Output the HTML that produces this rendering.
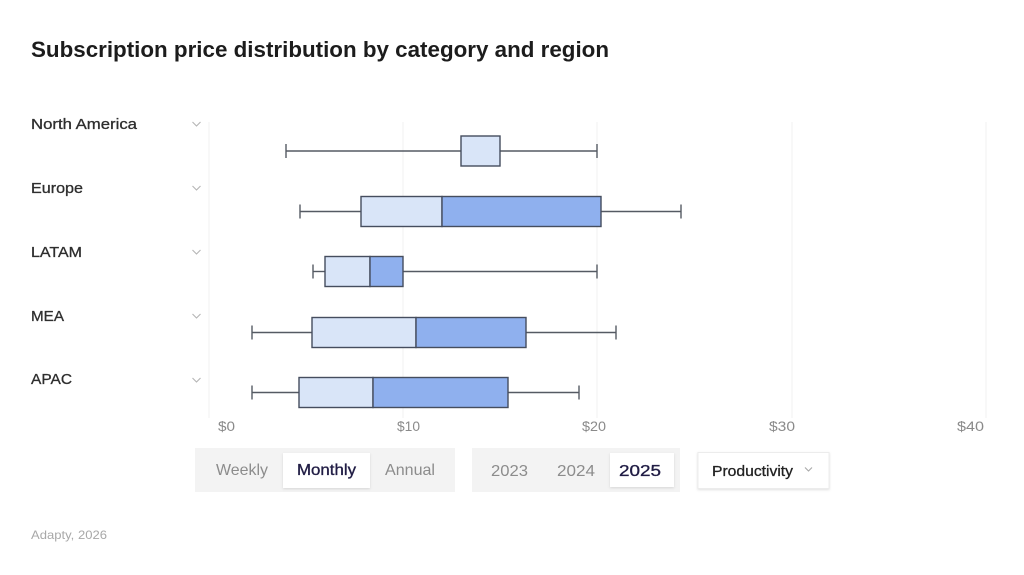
<!DOCTYPE html>
<html>
<head>
<meta charset="utf-8">
<style>
  html, body { margin:0; padding:0; background:#fff; }
  svg { display:block; }
  text { font-family: "Liberation Sans", "DejaVu Sans", sans-serif; }
</style>
</head>
<body>
<svg width="1024" height="575" viewBox="0 0 1024 575" xmlns="http://www.w3.org/2000/svg">
  <defs>
    <filter id="sh" x="-10%" y="-20%" width="120%" height="150%">
      <feDropShadow dx="0" dy="1" stdDeviation="1.2" flood-color="#000" flood-opacity="0.12"/>
    </filter>
  </defs>
  <rect width="1024" height="575" fill="#fff"/>

  <!-- Title -->
  <text x="31" y="57" font-size="22" font-weight="bold" fill="#1c1c1c" textLength="578" lengthAdjust="spacingAndGlyphs">Subscription price distribution by category and region</text>

  <!-- Legend labels -->
  <g font-size="15" fill="#2e2e2e" stroke="#2e2e2e" stroke-width="0.3">
    <text x="31" y="129" textLength="106" lengthAdjust="spacingAndGlyphs">North America</text>
    <text x="31" y="193" textLength="52" lengthAdjust="spacingAndGlyphs">Europe</text>
    <text x="31" y="257" textLength="51" lengthAdjust="spacingAndGlyphs">LATAM</text>
    <text x="31" y="321" textLength="33" lengthAdjust="spacingAndGlyphs">MEA</text>
    <text x="31" y="384" textLength="41" lengthAdjust="spacingAndGlyphs">APAC</text>
  </g>
  <!-- chevrons -->
  <g fill="none" stroke="#b5b5b5" stroke-width="1.1">
    <polyline points="192.5,122 196.5,126 200.5,122"/>
    <polyline points="192.5,186 196.5,190 200.5,186"/>
    <polyline points="192.5,250 196.5,254 200.5,250"/>
    <polyline points="192.5,314 196.5,318 200.5,314"/>
    <polyline points="192.5,378 196.5,382 200.5,378"/>
  </g>

  <!-- Gridlines -->
  <g stroke="#f0f0f0" stroke-width="1">
    <line x1="209" y1="122" x2="209" y2="418"/>
    <line x1="403" y1="122" x2="403" y2="418"/>
    <line x1="597" y1="122" x2="597" y2="418"/>
    <line x1="792" y1="122" x2="792" y2="418"/>
    <line x1="986" y1="122" x2="986" y2="418"/>
  </g>

  <!-- Tick labels -->
  <g font-size="14" fill="#8a8a8a">
    <text x="218" y="431" textLength="17" lengthAdjust="spacingAndGlyphs">$0</text>
    <text x="397" y="431" textLength="23" lengthAdjust="spacingAndGlyphs">$10</text>
    <text x="582" y="431" textLength="24" lengthAdjust="spacingAndGlyphs">$20</text>
    <text x="769" y="431" textLength="26" lengthAdjust="spacingAndGlyphs">$30</text>
    <text x="957" y="431" textLength="27" lengthAdjust="spacingAndGlyphs">$40</text>
  </g>

  <!-- Box plots -->
  <g stroke-width="1.4">
    <!-- North America -->
    <g stroke="#555a63">
      <line x1="286" y1="151" x2="461" y2="151"/>
      <line x1="500" y1="151" x2="597" y2="151"/>
      <line x1="286" y1="144" x2="286" y2="158"/>
      <line x1="597" y1="144" x2="597" y2="158"/>
    </g>
    <rect x="461" y="136" width="39" height="30" fill="#d9e5f8" stroke="#454d5e"/>

    <!-- Europe -->
    <g stroke="#555a63">
      <line x1="300" y1="211.5" x2="361" y2="211.5"/>
      <line x1="601" y1="211.5" x2="681" y2="211.5"/>
      <line x1="300" y1="204.5" x2="300" y2="218.5"/>
      <line x1="681" y1="204.5" x2="681" y2="218.5"/>
    </g>
    <rect x="361" y="196.5" width="81" height="30" fill="#d9e5f8" stroke="#454d5e"/>
    <rect x="442" y="196.5" width="159" height="30" fill="#8fb0ee" stroke="#454d5e"/>

    <!-- LATAM -->
    <g stroke="#555a63">
      <line x1="313" y1="271.5" x2="325" y2="271.5"/>
      <line x1="403" y1="271.5" x2="597" y2="271.5"/>
      <line x1="313" y1="264.5" x2="313" y2="278.5"/>
      <line x1="597" y1="264.5" x2="597" y2="278.5"/>
    </g>
    <rect x="325" y="256.5" width="45" height="30" fill="#d9e5f8" stroke="#454d5e"/>
    <rect x="370" y="256.5" width="33" height="30" fill="#8fb0ee" stroke="#454d5e"/>

    <!-- MEA -->
    <g stroke="#555a63">
      <line x1="252" y1="332.5" x2="312" y2="332.5"/>
      <line x1="526" y1="332.5" x2="616" y2="332.5"/>
      <line x1="252" y1="325.5" x2="252" y2="339.5"/>
      <line x1="616" y1="325.5" x2="616" y2="339.5"/>
    </g>
    <rect x="312" y="317.5" width="104" height="30" fill="#d9e5f8" stroke="#454d5e"/>
    <rect x="416" y="317.5" width="110" height="30" fill="#8fb0ee" stroke="#454d5e"/>

    <!-- APAC -->
    <g stroke="#555a63">
      <line x1="252" y1="392.5" x2="299" y2="392.5"/>
      <line x1="508" y1="392.5" x2="579" y2="392.5"/>
      <line x1="252" y1="385.5" x2="252" y2="399.5"/>
      <line x1="579" y1="385.5" x2="579" y2="399.5"/>
    </g>
    <rect x="299" y="377.5" width="74" height="30" fill="#d9e5f8" stroke="#454d5e"/>
    <rect x="373" y="377.5" width="135" height="30" fill="#8fb0ee" stroke="#454d5e"/>
  </g>

  <!-- Period segmented control -->
  <rect x="195" y="448" width="260" height="44" fill="#f3f3f3"/>
  <rect x="283" y="453" width="87" height="35" fill="#fff" filter="url(#sh)"/>
  <g font-size="16">
    <text x="216" y="475" fill="#8c8c8c" textLength="52" lengthAdjust="spacingAndGlyphs">Weekly</text>
    <text x="297" y="475" fill="#211d45" stroke="#211d45" stroke-width="0.35" textLength="59" lengthAdjust="spacingAndGlyphs">Monthly</text>
    <text x="385" y="475" fill="#8c8c8c" textLength="50" lengthAdjust="spacingAndGlyphs">Annual</text>
  </g>

  <!-- Year segmented control -->
  <rect x="472" y="448" width="208" height="44" fill="#f3f3f3"/>
  <rect x="610" y="453" width="64" height="34" fill="#fff" filter="url(#sh)"/>
  <g font-size="16">
    <text x="491" y="476" fill="#8c8c8c" textLength="37" lengthAdjust="spacingAndGlyphs">2023</text>
    <text x="557" y="476" fill="#8c8c8c" textLength="38" lengthAdjust="spacingAndGlyphs">2024</text>
    <text x="619" y="476" fill="#211d45" stroke="#211d45" stroke-width="0.35" textLength="42" lengthAdjust="spacingAndGlyphs">2025</text>
  </g>

  <!-- Dropdown -->
  <rect x="698" y="452.5" width="131" height="36" fill="#fff" stroke="#ececec" filter="url(#sh)"/>
  <text x="712" y="476" font-size="15" fill="#222" stroke="#222" stroke-width="0.3" textLength="81" lengthAdjust="spacingAndGlyphs">Productivity</text>
  <polyline points="805,467.5 808.5,471 812,467.5" fill="none" stroke="#a8a8a8" stroke-width="1.1"/>

  <!-- Footer -->
  <text x="31" y="539" font-size="12" fill="#a8a8a8" textLength="76" lengthAdjust="spacingAndGlyphs">Adapty, 2026</text>
</svg>
</body>
</html>
